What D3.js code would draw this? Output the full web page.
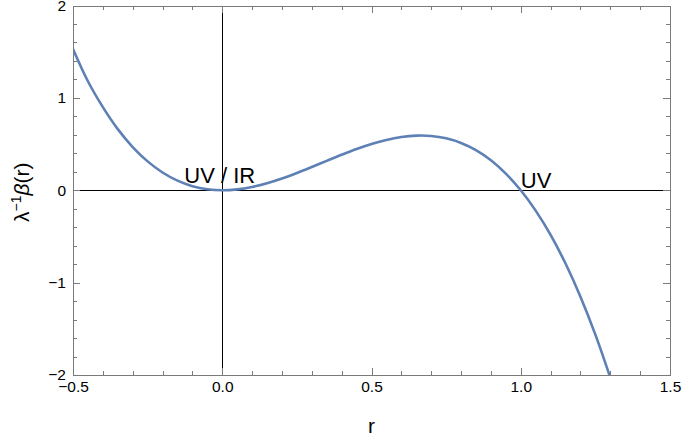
<!DOCTYPE html>
<html>
<head>
<meta charset="utf-8">
<script src="https://cdn.jsdelivr.net/npm/d3@7"></script>
<style>
  body { margin: 0; background: #fff; }
  svg { display: block; font-family: "Liberation Sans", Arial, sans-serif; }
</style>
</head>
<body>
<svg id="chart" width="684" height="441"></svg>
<script>
// Sampled beta function values
const rValues = [-0.50, -0.45, -0.40, -0.35, -0.30, -0.25, -0.20, -0.15, -0.10, -0.05,
  0.00, 0.05, 0.10, 0.15, 0.20, 0.25, 0.30, 0.35, 0.40, 0.45, 0.50, 0.55, 0.60, 0.65,
  0.70, 0.75, 0.80, 0.85, 0.90, 0.95, 1.00, 1.05, 1.10, 1.15, 1.20, 1.25, 1.30];
const betaValues = [1.53, 1.18, 0.90, 0.662, 0.468, 0.3125, 0.192, 0.1035, 0.044, 0.0105,
  0.0, 0.0095, 0.036, 0.0765, 0.128, 0.1875, 0.252, 0.3185, 0.384, 0.4455, 0.50, 0.5445, 0.576, 0.5915,
  0.588, 0.5625, 0.512, 0.4335, 0.324, 0.1805, 0.0, -0.2205, -0.484, -0.7935, -1.152, -1.5625, -2.028];

const xMajorTicks = [-0.5, 0.0, 0.5, 1.0, 1.5];
const xMinorTicks = d3.range(-0.5, 1.5001, 0.1);
const yMajorTicks = [-2, -1, 0, 1, 2];
const yMinorTicks = d3.range(-2, 2.0001, 0.2);

const fixedPoints = [
  { label: "UV / IR", r: 0.0, dx: -38, dy: -7 },
  { label: "UV", r: 1.0, dx: 0, dy: -2 }
];

const svg = d3.select("#chart");
const plotLeft = 73, plotRight = 670, plotTop = 5.5, plotBottom = 375;

const x = d3.scaleLinear().domain([-0.5, 1.5]).range([plotLeft, plotRight]);
const y = d3.scaleLinear().domain([-2, 2]).range([plotBottom, plotTop]);

const frameColor = "#7a7a7a";
const fmtX = v => d3.format(".1f")(v).replace("-", "\u2212");
const fmtY = v => d3.format("d")(v).replace("-", "\u2212");

svg.append("clipPath").attr("id", "plotClip")
  .append("rect").attr("x", plotLeft).attr("y", plotTop)
  .attr("width", plotRight - plotLeft).attr("height", plotBottom - plotTop);

// zero axes
svg.append("line").attr("x1", plotLeft).attr("x2", plotRight).attr("y1", y(0)).attr("y2", y(0))
  .attr("stroke", "#000").attr("stroke-width", 1).attr("shape-rendering", "crispEdges");
svg.append("line").attr("x1", x(0)).attr("x2", x(0)).attr("y1", plotTop).attr("y2", plotBottom)
  .attr("stroke", "#000").attr("stroke-width", 1).attr("shape-rendering", "crispEdges");

// curve
const pts = rValues.map((r, i) => [r, betaValues[i]]);
svg.append("path")
  .datum(pts)
  .attr("clip-path", "url(#plotClip)")
  .attr("fill", "none")
  .attr("stroke", "#5e81b5")
  .attr("stroke-width", 2.6)
  .attr("d", d3.line().x(d => x(d[0])).y(d => y(d[1])).curve(d3.curveCatmullRom.alpha(0.5)));

// frame axes with inward ticks on all sides
function frameAxis(axisFn, scale, major, minor, transform) {
  const gMinor = svg.append("g").attr("transform", transform).attr("shape-rendering", "crispEdges")
    .call(axisFn(scale).tickValues(minor).tickSize(4).tickSizeOuter(0).tickFormat(""));
  gMinor.selectAll("line").attr("stroke", frameColor);
  gMinor.select(".domain").attr("stroke", frameColor);
  const g = svg.append("g").attr("transform", transform).attr("shape-rendering", "crispEdges")
    .call(axisFn(scale).tickValues(major).tickSize(7).tickSizeOuter(0).tickFormat(""));
  g.select(".domain").remove();
  g.selectAll("line").attr("stroke", frameColor);
}

frameAxis(s => d3.axisTop(s), x, xMajorTicks, xMinorTicks, `translate(0,${plotBottom})`);
frameAxis(s => d3.axisBottom(s), x, xMajorTicks, xMinorTicks, `translate(0,${plotTop})`);
frameAxis(s => d3.axisRight(s), y, yMajorTicks, yMinorTicks, `translate(${plotLeft},0)`);
frameAxis(s => d3.axisLeft(s), y, yMajorTicks, yMinorTicks, `translate(${plotRight},0)`);

// tick labels on bottom and left
const xLab = svg.append("g").attr("transform", `translate(0,${plotBottom})`)
  .call(d3.axisBottom(x).tickValues(xMajorTicks).tickSize(0).tickPadding(6).tickFormat(fmtX));
xLab.select(".domain").remove();
xLab.selectAll("text").attr("fill", "#000").style("font-size", "15.5px")
  .style("font-family", "Liberation Sans, Arial, sans-serif");
const yLab = svg.append("g").attr("transform", `translate(${plotLeft},0)`)
  .call(d3.axisLeft(y).tickValues(yMajorTicks).tickSize(0).tickPadding(7).tickFormat(fmtY));
yLab.select(".domain").remove();
yLab.selectAll("text").attr("fill", "#000").style("font-size", "15.5px")
  .style("font-family", "Liberation Sans, Arial, sans-serif");

// fixed point labels
svg.selectAll(".fp").data(fixedPoints).enter().append("text")
  .attr("class", "fp")
  .attr("x", d => x(d.r) + d.dx)
  .attr("y", d => y(0) + d.dy)
  .attr("font-size", 22)
  .attr("fill", "#000")
  .text(d => d.label);

// axis titles
svg.append("text")
  .attr("x", (plotLeft + plotRight) / 2).attr("y", 433)
  .attr("text-anchor", "middle").attr("font-size", 21).attr("fill", "#000")
  .text("r");

const yt = svg.append("text")
  .attr("transform", `translate(29,${(plotTop + plotBottom) / 2 + 2}) rotate(-90)`)
  .attr("text-anchor", "middle").attr("font-size", 21).attr("fill", "#000");
yt.append("tspan").text("\u03bb");
yt.append("tspan").attr("font-size", 14).attr("dy", -8).text("\u22121");
yt.append("tspan").attr("dy", 8).attr("font-style", "italic").text("\u03b2");
yt.append("tspan").text("(r)");
</script>
</body>
</html>
